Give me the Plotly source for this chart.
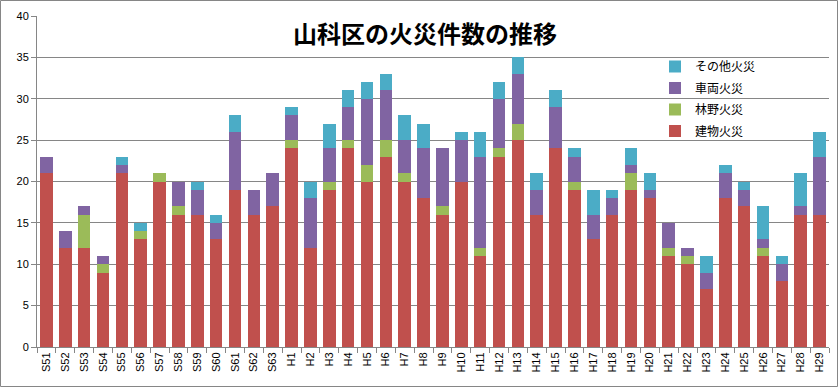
import plotly.graph_objects as go

categories = ["S51","S52","S53","S54","S55","S56","S57","S58","S59","S60","S61","S62","S63",
              "H1","H2","H3","H4","H5","H6","H7","H8","H9","H10","H11","H12","H13","H14","H15",
              "H16","H17","H18","H19","H20","H21","H22","H23","H24","H25","H26","H27","H28","H29"]

building = [21,12,12,9,21,13,20,16,16,13,19,16,17,
            24,12,19,24,20,23,20,18,16,20,11,23,25,16,24,
            19,13,16,19,18,11,10,7,18,17,11,8,16,16]
forest   = [0,0,4,1,0,1,1,1,0,0,0,0,0,
            1,0,1,1,2,2,1,0,1,0,1,1,2,0,0,
            1,0,0,2,0,1,1,0,0,0,1,0,0,0]
vehicle  = [2,2,1,1,1,0,0,3,3,2,7,3,4,
            3,6,4,4,8,6,4,6,7,5,11,6,6,3,5,
            3,3,2,1,1,3,1,2,3,2,1,2,1,7]
other    = [0,0,0,0,1,1,0,0,1,1,2,0,0,
            1,2,3,2,2,2,3,3,0,1,3,2,2,2,2,
            1,3,1,2,2,0,0,2,1,1,4,1,4,3]

series_names = ["建物火災", "林野火災", "車両火災", "その他火災"]
colors = ["#C0504D", "#9BBB59", "#8064A2", "#4BACC6"]

W, H = 838, 387
L, R, T, B = 37, 9, 16, 40
pw, ph = W - L - R, H - T - B

font_family = "Liberation Sans, Noto Sans CJK JP, sans-serif"

fig = go.Figure()
n = len(series_names)
for i, (name, vals, col) in enumerate(zip(series_names, [building, forest, vehicle, other], colors)):
    fig.add_trace(go.Bar(x=categories, y=vals, name=name, marker_color=col,
                         marker_line_width=0, legendgroup=name, legendrank=n - i))

fig.update_layout(
    width=W, height=H,
    margin=dict(l=L, r=R, t=T, b=B),
    barmode="stack", bargap=0.34,
    paper_bgcolor="white", plot_bgcolor="white",
    font=dict(family=font_family, size=11, color="black"),
    title=dict(text="<b>山科区の火災件数の推移</b>", x=425 / W, xanchor="center",
               y=1 - 35 / H, yanchor="middle",
               font=dict(family="Noto Sans CJK JP, sans-serif", size=24, color="black")),
    legend=dict(x=(655 - L) / pw, xanchor="left", y=(347 - 52) / ph, yanchor="top",
                traceorder="grouped", tracegroupgap=2.5, bgcolor="rgba(0,0,0,0)",
                font=dict(family="Noto Sans CJK JP, sans-serif", size=12, color="black"),
                itemwidth=30),
    xaxis=dict(tickangle=-90, showline=True, linecolor="#868686", linewidth=1,
               ticks="outside", ticklen=5, tickcolor="#868686", tickson="boundaries",
               showgrid=False, tickfont=dict(size=11)),
    yaxis=dict(range=[0, 40], dtick=5, showgrid=True, gridcolor="#868686", gridwidth=1,
               showline=True, linecolor="#868686", linewidth=1,
               ticks="outside", ticklen=5, tickcolor="#868686", zeroline=False,
               tickfont=dict(size=11)),
)

fig.add_shape(type="rect", xref="paper", yref="paper",
              x0=(0.5 - L) / pw, x1=(W - 0.5 - L) / pw,
              y0=(H - B - (H - 0.5)) / ph, y1=(H - B - 0.5) / ph,
              line=dict(color="#868686", width=1), fillcolor="rgba(0,0,0,0)", layer="below")

fig.write_html("out.html", config={"displayModeBar": False},
               post_script="document.body.style.margin='0';document.body.style.overflow='hidden';")
